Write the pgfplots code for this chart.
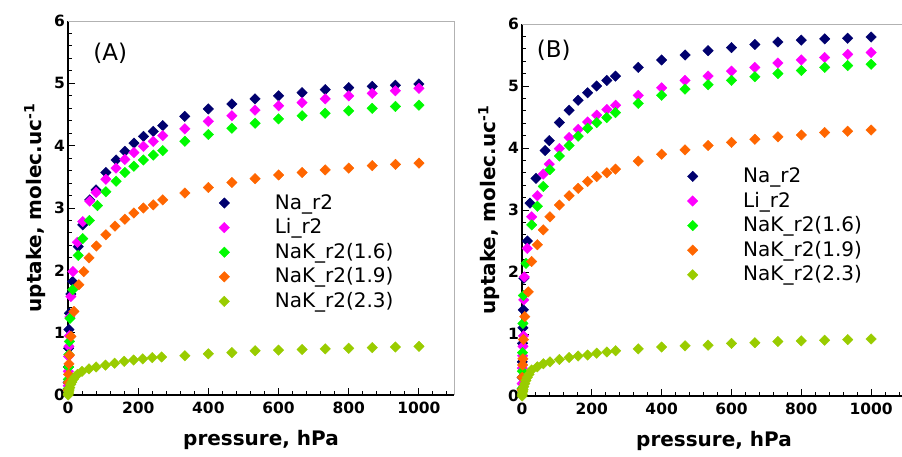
\documentclass[border=0pt]{standalone}
\usepackage{pgfplots}
\pgfplotsset{compat=1.18}
\usepackage{fontspec}
\setmainfont{DejaVu Sans}
\definecolor{cNa}{RGB}{0,0,110}
\definecolor{cLi}{RGB}{255,0,255}
\definecolor{cKa}{RGB}{0,250,0}
\definecolor{cKb}{RGB}{255,102,0}
\definecolor{cKc}{RGB}{153,204,0}
\pgfplotsset{
  panel/.style={
    scale only axis,
    xmin=0, xmax=1100, ymin=0, ymax=6,
    clip=false,
    axis x line*=bottom, axis y line*=left,
    axis line style={black, line width=1.5pt, -},
    every outer x axis line/.append style={-},
    every outer y axis line/.append style={-},
    every inner x axis line/.append style={-},
    every inner y axis line/.append style={-},
    xtick={0,200,...,1000}, ytick={0,1,2,3,4,5,6},
    minor xtick={0,40,...,1080}, minor ytick={0,0.2,...,6},
    tick align=inside,
    major tick length=7pt, minor tick length=4pt,
    every tick/.style={black, line width=1pt},
    /pgf/number format/assume math mode=true,
    /pgf/number format/1000 sep={},
    xticklabel={\pgfmathprintnumber[assume math mode=true,1000 sep={}]{\tick}},
    yticklabel={\pgfmathprintnumber[assume math mode=true]{\tick}},
    tick label style={font=\fontsize{15.5}{16}\selectfont\bfseries, inner sep=0pt},
    xticklabel style={anchor=north, yshift=-6.5pt},
    yticklabel style={anchor=east, xshift=-3pt},
    xlabel={pressure, hPa},
    ylabel={uptake, molec.uc\textsuperscript{-1}},
    every axis x label/.style={at={(axis description cs:0.5,0)}, yshift=-44.5pt, anchor=center,
      font=\fontsize{20}{22}\selectfont\bfseries},
    every axis y label/.style={at={(axis description cs:0,0.5)}, xshift=-33pt, rotate=90, anchor=center,
      font=\fontsize{20}{22}\selectfont\bfseries},
    legend cell align=left,
    legend image code/.code={\draw[##1] plot coordinates {(0pt,6pt)}; \path[draw=none,fill=none] (-6pt,0pt) rectangle (50.5pt,12pt);},
    legend style={draw=none, fill=none, inner sep=0pt, outer sep=0pt,
      column sep=0pt, row sep=4.6pt,
      font=\fontsize{20}{22}\selectfont,
      nodes={inner sep=0pt, text height=15pt, text depth=5pt, anchor=base west}},
    extra description/.code={\draw[gray!60, line width=0.9pt] (rel axis cs:0,1) -- (rel axis cs:1,1) -- (rel axis cs:1,0);},
  },
  mk/.style={only marks, mark=square*, mark size=3.7pt, mark options={rotate=45, draw=#1, fill=#1}},
}
\begin{document}
\begin{tikzpicture}
% ---------------- Panel A ----------------
\begin{axis}[panel, at={(68pt,61pt)}, anchor=south west, width=386pt, height=374pt,
  legend style={at={(axis description cs:0.3894,0.5374)}, anchor=north west}]
\addplot[mk=cNa] coordinates {(0.4,0.2)(0.9,0.45)(1.6,0.75)(2.7,1.05)(4,1.31)(8,1.62)(13.3,1.82)(29,2.38)(42,2.73)(62,3.13)(80,3.29)(108,3.57)(137,3.77)(162,3.91)(188,4.04)(215,4.15)(243,4.23)(270,4.32)(333,4.47)(400,4.59)(467,4.67)(533,4.75)(600,4.80)(667,4.85)(733,4.90)(800,4.93)(867,4.95)(933,4.97)(1000,4.99)};
\addlegendentry{Na\_r2}
\addplot[mk=cLi] coordinates {(0.4,0.15)(0.9,0.38)(1.6,0.62)(2.7,0.78)(4,0.95)(5.3,1.25)(8,1.58)(14,1.98)(27,2.45)(42,2.78)(62,3.11)(80,3.25)(108,3.46)(137,3.64)(162,3.78)(188,3.89)(215,3.99)(243,4.07)(270,4.16)(333,4.27)(400,4.39)(467,4.48)(533,4.57)(600,4.64)(667,4.69)(733,4.75)(800,4.80)(867,4.84)(933,4.88)(1000,4.92)};
\addlegendentry{Li\_r2}
\addplot[mk=cKa] coordinates {(0.4,0.1)(0.9,0.25)(1.6,0.45)(2.7,0.65)(4,0.86)(5.7,1.23)(13.3,1.69)(29,2.24)(42,2.51)(61,2.80)(84,3.04)(108,3.26)(137,3.43)(162,3.57)(188,3.67)(215,3.77)(243,3.85)(270,3.92)(333,4.07)(400,4.18)(467,4.28)(533,4.36)(600,4.43)(667,4.48)(733,4.52)(800,4.56)(867,4.60)(933,4.63)(1000,4.65)};
\addlegendentry{NaK\_r2(1.6)}
\addplot[mk=cKb] coordinates {(0.4,0.08)(0.9,0.2)(1.6,0.33)(2.7,0.5)(4,0.64)(8.5,0.94)(17,1.34)(31,1.77)(45,1.98)(60,2.2)(81,2.39)(108,2.57)(134,2.71)(162,2.82)(188,2.92)(215,3.00)(243,3.05)(270,3.13)(333,3.24)(400,3.33)(467,3.41)(533,3.47)(600,3.53)(667,3.57)(733,3.61)(800,3.64)(867,3.68)(933,3.70)(1000,3.72)};
\addlegendentry{NaK\_r2(1.9)}
\addplot[mk=cKc] coordinates {(0.4,0.0)(1,0.02)(2,0.05)(3,0.08)(5,0.12)(8,0.17)(11,0.21)(15,0.25)(20,0.29)(27,0.33)(40,0.38)(60,0.42)(80,0.45)(107,0.48)(133,0.51)(160,0.54)(187,0.56)(213,0.58)(240,0.60)(267,0.61)(333,0.63)(400,0.66)(467,0.68)(533,0.71)(600,0.72)(667,0.73)(733,0.74)(800,0.75)(867,0.76)(933,0.77)(1000,0.78)};
\addlegendentry{NaK\_r2(2.3)}
\node[font=\fontsize{23}{25}\selectfont, anchor=base, inner sep=0pt] at (rel axis cs:0.1096,0.8949) {(A)};
\end{axis}
% ---------------- Panel B ----------------
\begin{axis}[panel, at={(522pt,60pt)}, anchor=south west, width=384pt, height=372pt,
  legend style={at={(axis description cs:0.4289,0.6145)}, anchor=north west}]
\addplot[mk=cNa] coordinates {(0.4,0.3)(0.9,0.55)(1.6,0.85)(2.7,1.1)(3.8,1.39)(5.5,1.9)(15.3,2.50)(23,3.11)(40,3.51)(66,3.96)(78,4.12)(107,4.41)(135,4.61)(161,4.77)(188,4.89)(214,5.00)(243,5.09)(268,5.16)(333,5.30)(400,5.42)(467,5.50)(533,5.57)(600,5.62)(667,5.67)(733,5.71)(800,5.74)(867,5.76)(933,5.77)(1000,5.79)};
\addlegendentry{Na\_r2}
\addplot[mk=cLi] coordinates {(0.4,0.2)(0.9,0.45)(1.6,0.65)(2.7,0.8)(4,0.97)(5,1.55)(6.5,1.92)(15,2.38)(27.7,2.89)(44,3.23)(61,3.58)(78,3.74)(107,3.99)(135,4.17)(161,4.30)(188,4.42)(214,4.53)(243,4.62)(268,4.69)(333,4.85)(400,4.97)(467,5.09)(533,5.16)(600,5.24)(667,5.30)(733,5.37)(800,5.42)(867,5.46)(933,5.51)(1000,5.54)};
\addlegendentry{Li\_r2}
\addplot[mk=cKa] coordinates {(0.4,0.12)(0.9,0.4)(1.6,0.7)(2.7,1.17)(4,1.62)(11.5,2.14)(27.7,2.76)(44,3.06)(61,3.38)(80,3.65)(107,3.87)(135,4.04)(161,4.19)(188,4.32)(214,4.41)(243,4.49)(268,4.57)(333,4.72)(400,4.85)(467,4.95)(533,5.02)(600,5.09)(667,5.15)(733,5.20)(800,5.25)(867,5.30)(933,5.33)(1000,5.35)};
\addlegendentry{NaK\_r2(1.6)}
\addplot[mk=cKb] coordinates {(0.4,0.1)(0.9,0.3)(1.6,0.5)(2.7,0.6)(4,0.91)(8,1.28)(18,1.68)(27.7,2.17)(44,2.44)(61,2.68)(80,2.89)(107,3.08)(135,3.23)(161,3.35)(188,3.46)(214,3.54)(243,3.60)(268,3.66)(333,3.79)(400,3.90)(467,3.97)(533,4.04)(600,4.09)(667,4.14)(733,4.18)(800,4.21)(867,4.25)(933,4.27)(1000,4.29)};
\addlegendentry{NaK\_r2(1.9)}
\addplot[mk=cKc] coordinates {(0.4,0.0)(1,0.03)(2,0.07)(3,0.1)(5,0.15)(8,0.2)(11,0.25)(15,0.3)(20,0.35)(27.7,0.42)(44,0.47)(61,0.52)(80,0.55)(107,0.59)(135,0.62)(161,0.645)(188,0.66)(214,0.69)(243,0.71)(268,0.73)(333,0.76)(400,0.79)(467,0.81)(533,0.82)(600,0.85)(667,0.86)(733,0.88)(800,0.89)(867,0.90)(933,0.91)(1000,0.92)};
\addlegendentry{NaK\_r2(2.3)}
\node[font=\fontsize{23}{25}\selectfont, anchor=base, inner sep=0pt] at (rel axis cs:0.0828,0.9094) {(B)};
\end{axis}
\pgfresetboundingbox
\useasboundingbox (0pt,0pt) rectangle (902pt,456pt);
\end{tikzpicture}
\end{document}
